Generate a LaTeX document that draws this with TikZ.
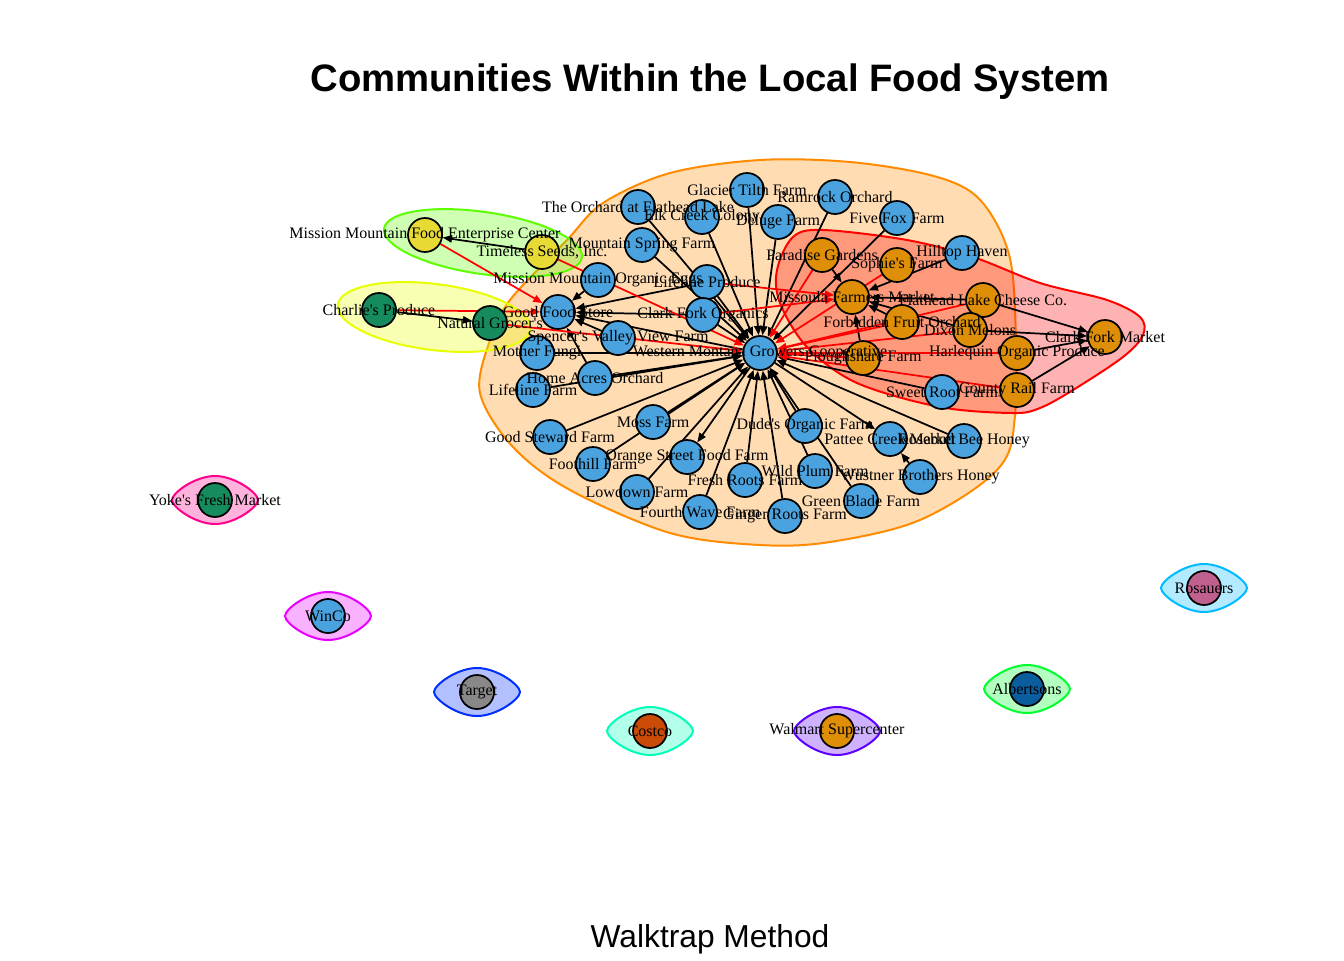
\documentclass[tikz,border=0pt]{standalone}
\usepackage{fontspec}
\setmainfont{Liberation Serif}
\newfontfamily\headfont{Liberation Sans}
\usetikzlibrary{arrows.meta}

\definecolor{vblue}{HTML}{4AA3DF}
\definecolor{vorange}{HTML}{DE8E07}
\definecolor{vyellow}{HTML}{E8DA35}
\definecolor{vgreen}{HTML}{168C5E}
\definecolor{vgray}{HTML}{888888}
\definecolor{vverm}{HTML}{C94B05}
\definecolor{vnavy}{HTML}{0A5E9E}
\definecolor{vpink}{HTML}{C0608F}
\definecolor{hRed}{HTML}{FF0000}
\definecolor{hOrange}{HTML}{FF8B00}
\definecolor{hYellow}{HTML}{E8FF00}
\definecolor{hLime}{HTML}{5DFF00}
\definecolor{hGreen}{HTML}{00FF2E}
\definecolor{hAqua}{HTML}{00FFB9}
\definecolor{hSky}{HTML}{00B9FF}
\definecolor{hBlue}{HTML}{002EFF}
\definecolor{hViolet}{HTML}{5D00FF}
\definecolor{hMagenta}{HTML}{E800FF}
\definecolor{hPink}{HTML}{FF008B}

\pgfdeclarelayer{hulls}
\pgfdeclarelayer{edges}
\pgfsetlayers{hulls,edges,main}

\begin{document}
\begin{tikzpicture}[
  x=0.75pt,y=-0.75pt,
  vtx/.style={circle,draw,line width=1.3pt,minimum size=25.5pt,inner sep=0pt},
  lbl/.style={font=\fontsize{12}{13}\selectfont,inner sep=0pt},
  edge/.style={line width=1.3pt,-{Triangle[length=7pt,width=5.5pt]}},
  xedge/.style={edge,hRed},
  hull/.style={line width=1.5pt,fill opacity=0.3}
]
  \useasboundingbox (0,0) rectangle (1344,960);

  % vertices
  \node[vtx,fill=vblue] (wmgc) at (760,353) {};
  \node[vtx,fill=vblue] (glacier) at (747,190) {};
  \node[vtx,fill=vblue] (ramrock) at (835,197) {};
  \node[vtx,fill=vblue] (fivefox) at (897,218) {};
  \node[vtx,fill=vblue] (hilltop) at (962,253) {};
  \node[vtx,fill=vblue] (deluge) at (778,222) {};
  \node[vtx,fill=vblue] (elkcreek) at (702,217) {};
  \node[vtx,fill=vblue] (orchard) at (638,207) {};
  \node[vtx,fill=vblue] (mtnspring) at (642,245) {};
  \node[vtx,fill=vblue] (lifeprod) at (707,282) {};
  \node[vtx,fill=vblue] (mmoe) at (598,280) {};
  \node[vtx,fill=vblue] (cforg) at (703,315) {};
  \node[vtx,fill=vblue] (gfs) at (558,312) {};
  \node[vtx,fill=vblue] (spencer) at (618,338) {};
  \node[vtx,fill=vblue] (fungi) at (537,353) {};
  \node[vtx,fill=vblue] (homeacres) at (595,378) {};
  \node[vtx,fill=vblue] (lifefarm) at (533,390) {};
  \node[vtx,fill=vblue] (steward) at (550,437) {};
  \node[vtx,fill=vblue] (moss) at (653,422) {};
  \node[vtx,fill=vblue] (foothill) at (593,464) {};
  \node[vtx,fill=vblue] (orangest) at (687,457) {};
  \node[vtx,fill=vblue] (lowdown) at (637,492) {};
  \node[vtx,fill=vblue] (fourthwave) at (700,512) {};
  \node[vtx,fill=vblue] (freshroots) at (745,480) {};
  \node[vtx,fill=vblue] (ginger) at (785,516) {};
  \node[vtx,fill=vblue] (dudes) at (805,426) {};
  \node[vtx,fill=vblue] (wildplum) at (815,471) {};
  \node[vtx,fill=vblue] (greenblade) at (861,501) {};
  \node[vtx,fill=vblue] (pattee) at (890,439) {};
  \node[vtx,fill=vblue] (rosebud) at (964,441) {};
  \node[vtx,fill=vblue] (wustner) at (920,477) {};
  \node[vtx,fill=vblue] (sweetroot) at (942,392) {};

  \node[vtx,fill=vorange] (paradise) at (822,255) {};
  \node[vtx,fill=vorange] (sophies) at (897,265) {};
  \node[vtx,fill=vorange] (missoula) at (852,297) {};
  \node[vtx,fill=vorange] (flathead) at (983,300) {};
  \node[vtx,fill=vorange] (forbidden) at (902,322) {};
  \node[vtx,fill=vorange] (dixon) at (970,330) {};
  \node[vtx,fill=vorange] (plough) at (863,358) {};
  \node[vtx,fill=vorange] (harlequin) at (1017,353) {};
  \node[vtx,fill=vorange] (countyrail) at (1017,390) {};
  \node[vtx,fill=vorange] (cfmarket) at (1105,337) {};

  \node[vtx,fill=vyellow] (mmfec) at (425,235) {};
  \node[vtx,fill=vyellow] (timeless) at (542,252) {};
  \node[vtx,fill=vgreen] (charlies) at (379,310) {};
  \node[vtx,fill=vgreen] (natural) at (490,323) {};

  \node[vtx,fill=vgreen] (yokes) at (215,500) {};
  \node[vtx,fill=vblue] (winco) at (328,616) {};
  \node[vtx,fill=vgray] (target) at (477,692) {};
  \node[vtx,fill=vverm] (costco) at (650,731) {};
  \node[vtx,fill=vorange] (walmart) at (837,731) {};
  \node[vtx,fill=vnavy] (albertsons) at (1027,689) {};
  \node[vtx,fill=vpink] (rosauers) at (1204,588) {};

  % communities
  \begin{pgfonlayer}{hulls}
    \draw[hull,draw=hOrange,fill=hOrange] plot[smooth cycle,tension=0.55] coordinates {
      (480,393) (490,340) (510,300) (567,240) (603,203) (670,173) (760,160)
      (850,162) (930,175) (975,195) (1003,237) (1014,290) (1015,415) (997,470)
      (920,520) (830,542) (760,545) (670,533) (570,490) (513,447)};
    \draw[hull,draw=hRed,fill=hRed] plot[smooth cycle,tension=0.55] coordinates {
      (777,270) (793,237) (823,230) (907,240) (973,257) (1040,283) (1107,300)
      (1140,317) (1143,335) (1123,357) (1073,390) (1040,408) (1013,413)
      (940,407) (857,383) (807,347) (780,303)};
    \draw[hull,draw=hLime,fill=hLime,shift={(483,243)},rotate=-8.3]
      (0,0) ellipse [x radius=100,y radius=31];
    \draw[hull,draw=hYellow,fill=hYellow,shift={(434,317)},rotate=-7.2]
      (0,0) ellipse [x radius=97,y radius=33];
    \foreach \n/\c in {yokes/hPink,winco/hMagenta,target/hBlue,costco/hAqua,
                       walmart/hViolet,albertsons/hGreen,rosauers/hSky}
      \draw[hull,draw=\c,fill=\c,shift={(\n)}]
        (-43,0) .. controls (-43,-7) and (-20,-24) .. (0,-24)
        .. controls (20,-24) and (43,-7) .. (43,0)
        .. controls (43,7) and (20,24) .. (0,24)
        .. controls (-20,24) and (-43,7) .. (-43,0) -- cycle;
  \end{pgfonlayer}

  % links
  \begin{pgfonlayer}{edges}
    \foreach \s in {glacier,ramrock,fivefox,deluge,elkcreek,orchard,mtnspring,
                    lifeprod,cforg,fungi,homeacres,lifefarm,steward,moss,foothill,
                    lowdown,fourthwave,freshroots,ginger,wildplum,dudes,greenblade,
                    rosebud,sweetroot}
      \draw[edge] (\s) -- (wmgc);
    \foreach \s/\t in {wmgc/gfs,wmgc/orangest,wmgc/pattee,wustner/pattee,
                       mmoe/gfs,lifeprod/gfs,cforg/gfs,spencer/gfs,homeacres/gfs,
                       timeless/mmfec,charlies/natural,
                       paradise/missoula,hilltop/missoula,flathead/missoula,
                       forbidden/missoula,dixon/missoula,plough/missoula,
                       flathead/cfmarket,dixon/cfmarket,harlequin/cfmarket,
                       countyrail/cfmarket}
      \draw[edge] (\s) -- (\t);
    \foreach \s/\t in {timeless/wmgc,natural/wmgc,mmfec/gfs,charlies/gfs,
                       lifeprod/missoula,cforg/missoula,paradise/wmgc,sophies/wmgc,
                       forbidden/wmgc,flathead/wmgc,dixon/wmgc,harlequin/wmgc,
                       countyrail/wmgc,plough/wmgc}
      \draw[xedge] (\s) -- (\t);
  \end{pgfonlayer}

  % names
  \foreach \n/\t in {wmgc/Western Montana Growers Cooperative,
      glacier/Glacier Tilth Farm,ramrock/Ramrock Orchard,fivefox/Five Fox Farm,
      hilltop/Hilltop Haven,deluge/Deluge Farm,elkcreek/Elk Creek Colony,
      orchard/The Orchard at Flathead Lake,mtnspring/Mountain Spring Farm,
      lifeprod/Lifeline Produce,mmoe/Mission Mountain Organic Eggs,
      cforg/Clark Fork Organics,gfs/Good Food Store,
      spencer/Spencer\textquotesingle s Valley View Farm,fungi/Mother Fungi,
      homeacres/Home Acres Orchard,lifefarm/Lifeline Farm,
      steward/Good Steward Farm,moss/Moss Farm,foothill/Foothill Farm,
      orangest/Orange Street Food Farm,lowdown/Lowdown Farm,
      fourthwave/Fourth Wave Farm,freshroots/Fresh Roots Farm,
      ginger/Ginger Roots Farm,dudes/Dude\textquotesingle s Organic Farm,
      wildplum/Wild Plum Farm,greenblade/Green Blade Farm,
      pattee/Pattee Creek Market,rosebud/Rosebud Bee Honey,
      wustner/Wustner Brothers Honey,sweetroot/Sweet Root Farm,
      paradise/Paradise Gardens,sophies/Sophie\textquotesingle s Farm,
      missoula/Missoula Farmers Market,flathead/Flathead Lake Cheese Co.,
      forbidden/Forbidden Fruit Orchard,dixon/Dixon Melons,
      plough/Ploughshare Farm,harlequin/Harlequin Organic Produce,
      countyrail/County Rail Farm,cfmarket/Clark Fork Market,
      mmfec/Mission Mountain Food Enterprise Center,
      timeless/{Timeless Seeds, Inc.},
      charlies/Charlie\textquotesingle s Produce,natural/Natural Grocer\textquotesingle s,
      yokes/Yoke\textquotesingle s Fresh Market,winco/WinCo,target/Target,
      costco/Costco,walmart/Walmart Supercenter,albertsons/Albertsons,
      rosauers/Rosauers}
    \node[lbl] (\n-t) at (\n) {\t};

  \node[font=\headfont\bfseries\fontsize{28.7}{32}\selectfont,anchor=base] (title)
    at (710,91) {Communities Within the Local Food System};
  \node[font=\headfont\fontsize{23.8}{27}\selectfont,anchor=base] (method)
    at (710,947) {Walktrap Method};
\end{tikzpicture}
\end{document}
